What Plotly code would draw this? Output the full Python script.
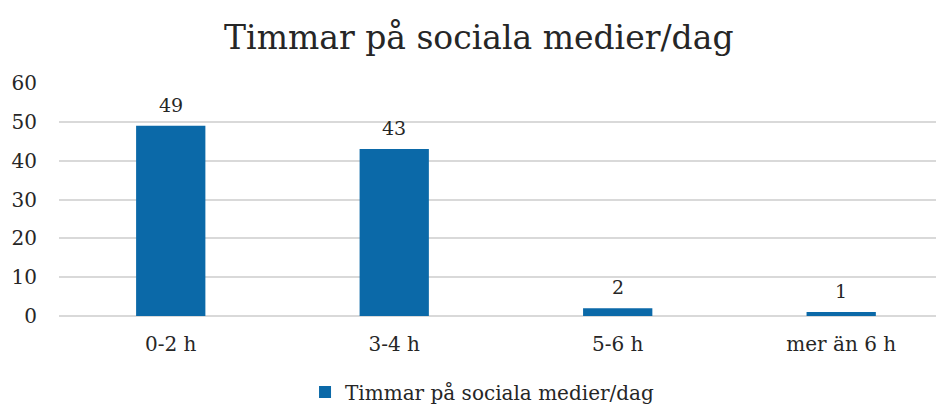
import plotly.graph_objects as go

# Data
categories = ["0-2 h", "3-4 h", "5-6 h", "mer än 6 h"]
values = [49, 43, 2, 1]
series_name = "Timmar på sociala medier/dag"

BAR_COLOR = "#0B69A8"
GRID_COLOR = "#D9D9D9"
TEXT_COLOR = "#262626"
FONT = "'DejaVu Serif', Georgia, serif"

fig = go.Figure()

fig.add_trace(
    go.Bar(
        x=categories,
        y=values,
        name=series_name,
        marker=dict(color=BAR_COLOR, line=dict(width=0)),
        width=0.31,
    )
)

# value labels above bars
for cat, val in zip(categories, values):
    fig.add_annotation(
        x=cat, y=val, text=str(val),
        showarrow=False, yanchor="bottom", yshift=8,
        font=dict(size=19, color=TEXT_COLOR, family=FONT),
    )

# page has an 8px body margin, so the figure is sized to fit the window
fig.update_layout(
    width=936,
    height=400,
    paper_bgcolor="white",
    plot_bgcolor="white",
    font=dict(family=FONT, size=20, color=TEXT_COLOR),
    title=dict(
        text=series_name,
        x=0.503,
        xanchor="center",
        y=0.927,
        yanchor="middle",
        font=dict(size=33, color=TEXT_COLOR, family=FONT),
    ),
    margin=dict(l=51, r=0, t=75, b=92, autoexpand=False),
    showlegend=True,
    legend=dict(
        orientation="h",
        x=0.478,
        xanchor="center",
        y=-0.326,
        yanchor="middle",
        font=dict(size=20, family=FONT),
        itemwidth=30,
    ),
)

fig.update_xaxes(
    range=[-0.5, 3.46],
    showgrid=False,
    showline=False,
    ticks="",
    tickfont=dict(size=20),
    ticklabelstandoff=14,
    automargin=False,
)

fig.update_yaxes(
    range=[0, 60],
    dtick=10,
    showgrid=True,
    gridcolor=GRID_COLOR,
    gridwidth=2,
    zeroline=True,
    zerolinecolor=GRID_COLOR,
    zerolinewidth=2,
    tickfont=dict(size=20),
    ticklabelstandoff=21,
    automargin=False,
)

fig.write_html("out.html")
